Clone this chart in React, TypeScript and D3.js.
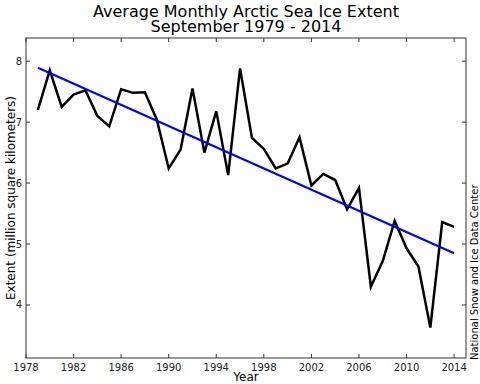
import { useEffect, useRef } from 'react';
import * as d3 from 'd3';

const years = [
  1979, 1980, 1981, 1982, 1983, 1984, 1985, 1986, 1987, 1988, 1989, 1990,
  1991, 1992, 1993, 1994, 1995, 1996, 1997, 1998, 1999, 2000, 2001, 2002,
  2003, 2004, 2005, 2006, 2007, 2008, 2009, 2010, 2011, 2012, 2013, 2014,
];
const extent = [
  7.20, 7.85, 7.25, 7.45, 7.52, 7.10, 6.93, 7.54, 7.48, 7.49, 7.04, 6.24,
  6.55, 7.55, 6.50, 7.18, 6.13, 7.88, 6.74, 6.56, 6.24, 6.32, 6.75, 5.96,
  6.15, 6.05, 5.57, 5.92, 4.30, 4.72, 5.38, 4.93, 4.63, 3.63, 5.36, 5.28,
];
// trend line end points
const trendYears = [1979, 2014];
const trendValues = [7.89, 4.85];

const xTicks = [1978, 1982, 1986, 1990, 1994, 1998, 2002, 2006, 2010, 2014];
const yTicks = [4, 5, 6, 7, 8];

const W = 480;
const H = 384;
const FONT = 'DejaVu Sans, sans-serif';

export default function App() {
  const svgRef = useRef<SVGSVGElement>(null);

  useEffect(() => {
    if (!svgRef.current) return;
    const svg = d3.select(svgRef.current);
    svg.selectAll('*').remove();

    const left = 26, right = 466, top = 38, bottom = 358;

    const x = d3.scaleLinear().domain([1978, 2015]).range([left, right]);
    const y = d3.scaleLinear().domain([3.13, 8.38]).range([bottom, top]);

    svg.append('rect')
      .attr('width', W).attr('height', H).attr('fill', '#fff');

    // Titulo (dos lineas)
    const cx = (left + right) / 2;
    svg.append('text')
      .attr('x', cx).attr('y', 17)
      .attr('text-anchor', 'middle')
      .attr('font-family', FONT).attr('font-size', 16)
      .attr('fill', '#000')
      .text('Average Monthly Arctic Sea Ice Extent');
    svg.append('text')
      .attr('x', cx).attr('y', 32)
      .attr('text-anchor', 'middle')
      .attr('font-family', FONT).attr('font-size', 16)
      .attr('fill', '#000')
      .text('September 1979 - 2014');

    const line = d3.line<[number, number]>()
      .x(d => x(d[0]))
      .y(d => y(d[1]));

    svg.append('path')
      .datum(years.map((yr, i) => [yr, extent[i]] as [number, number]))
      .attr('d', line)
      .attr('fill', 'none')
      .attr('stroke', '#000')
      .attr('stroke-width', 2.5)
      .attr('stroke-linejoin', 'miter');

    svg.append('path')
      .datum(trendYears.map((yr, i) => [yr, trendValues[i]] as [number, number]))
      .attr('d', line)
      .attr('fill', 'none')
      .attr('stroke', '#0000ff')
      .attr('stroke-width', 2.2);

    // Marco
    svg.append('rect')
      .attr('x', left).attr('y', top)
      .attr('width', right - left).attr('height', bottom - top)
      .attr('fill', 'none')
      .attr('stroke', '#333')
      .attr('stroke-width', 1);

    const tickLen = 4;
    xTicks.forEach(t => {
      const px = x(t);
      svg.append('line').attr('x1', px).attr('x2', px)
        .attr('y1', bottom).attr('y2', bottom - tickLen)
        .attr('stroke', '#333');
      svg.append('line').attr('x1', px).attr('x2', px)
        .attr('y1', top).attr('y2', top + tickLen)
        .attr('stroke', '#333');
      svg.append('text')
        .attr('x', px).attr('y', bottom + 13)
        .attr('text-anchor', 'middle')
        .attr('font-family', FONT).attr('font-size', 10)
        .attr('fill', '#222')
        .text(String(t));
    });

    yTicks.forEach(t => {
      const py = y(t);
      svg.append('line').attr('x1', left).attr('x2', left + tickLen)
        .attr('y1', py).attr('y2', py).attr('stroke', '#333');
      svg.append('line').attr('x1', right).attr('x2', right - tickLen)
        .attr('y1', py).attr('y2', py).attr('stroke', '#333');
      svg.append('text')
        .attr('x', left - 4).attr('y', py + 3.5)
        .attr('text-anchor', 'end')
        .attr('font-family', FONT).attr('font-size', 10)
        .attr('fill', '#222')
        .text(String(t));
    });

    // Etiquetas de ejes
    svg.append('text')
      .attr('x', cx).attr('y', 381)
      .attr('text-anchor', 'middle')
      .attr('font-family', FONT).attr('font-size', 12)
      .attr('fill', '#000')
      .text('Year');

    svg.append('text')
      .attr('transform', `translate(15, ${(top + bottom) / 2}) rotate(-90)`)
      .attr('text-anchor', 'middle')
      .attr('font-family', FONT).attr('font-size', 12)
      .attr('fill', '#000')
      .text('Extent (million square kilometers)');

    svg.append('text')
      .attr('transform', `translate(478, ${bottom + 2}) rotate(-90)`)
      .attr('text-anchor', 'start')
      .attr('font-family', FONT).attr('font-size', 10)
      .attr('fill', '#000')
      .text('National Snow and Ice Data Center');
  }, []);

  return (
    <svg
      ref={svgRef}
      width={W}
      height={H}
      style={{ position: 'absolute', left: 0, top: 0, display: 'block' }}
    />
  );
}
